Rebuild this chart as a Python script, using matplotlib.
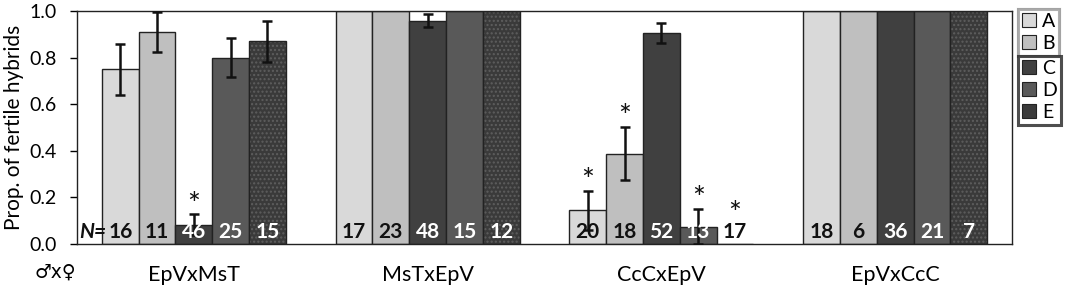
import matplotlib
matplotlib.use("Agg")
import matplotlib.pyplot as plt
from matplotlib.patches import Patch
import numpy as np

plt.rcParams['font.family'] = ['Lato', 'DejaVu Sans']

crosses = ["EpVxMsT", "MsTxEpV", "CcCxEpV", "EpVxCcC"]
series = ["A", "B", "C", "D", "E"]
# proportions per series (rows) for each cross (columns)
values = {
    "A": [0.75, 1.00, 0.147, 1.00],
    "B": [0.91, 1.00, 0.386, 1.00],
    "C": [0.083, 0.955, 0.907, 1.00],
    "D": [0.80, 1.00, 0.074, 1.00],
    "E": [0.87, 1.00, 0.0, 1.00],
}
err_low = {
    "A": [0.11, 0.0, 0.085, 0.0],
    "B": [0.088, 0.0, 0.112, 0.0],
    "C": [0.045, 0.025, 0.044, 0.0],
    "D": [0.084, 0.0, 0.074, 0.0],
    "E": [0.09, 0.0, 0.0, 0.0],
}
err_high = {
    "A": [0.11, 0.0, 0.082, 0.0],
    "B": [0.086, 0.0, 0.117, 0.0],
    "C": [0.046, 0.03, 0.04, 0.0],
    "D": [0.083, 0.0, 0.077, 0.0],
    "E": [0.086, 0.0, 0.0, 0.0],
}
n_labels = {
    "A": [16, 17, 20, 18],
    "B": [11, 23, 18, 6],
    "C": [46, 48, 52, 36],
    "D": [25, 15, 13, 21],
    "E": [15, 12, 17, 7],
}
signif = {
    "A": [0, 0, 1, 0],
    "B": [0, 0, 1, 0],
    "C": [1, 0, 0, 0],
    "D": [0, 0, 1, 0],
    "E": [0, 0, 1, 0],
}
yticks = [0.0, 0.2, 0.4, 0.6, 0.8, 1.0]

colors = {"A": "#d9d9d9", "B": "#bfbfbf", "C": "#404040", "D": "#595959", "E": "#3a3a3a"}
text_colors = {"A": "#111111", "B": "#111111", "C": "white", "D": "white", "E": "white"}

fig = plt.figure(figsize=(10.84, 2.88), dpi=100)
ax = fig.add_axes([77/1084, 44/288, (1012-77)/1084, (244-11)/288])

x = np.arange(len(crosses))
w = 0.1574
for i, s in enumerate(series):
    pos = x + (i - 2) * w
    vals = np.array(values[s])
    if s == "E":
        ax.bar(pos, vals, w, color=colors[s], edgecolor="#5e5e5e", hatch="....",
               linewidth=0, zorder=2)
        ax.bar(pos, vals, w, fill=False, edgecolor="#222222", linewidth=1.0, zorder=2.1)
    else:
        ax.bar(pos, vals, w, color=colors[s], edgecolor="#222222", linewidth=1.0, zorder=2)
    lo = np.array(err_low[s]); hi = np.array(err_high[s])
    mask = (lo + hi) > 0
    ax.errorbar(pos[mask], vals[mask], yerr=[lo[mask], hi[mask]], fmt="none",
                ecolor="#111111", elinewidth=1.8, capsize=3.5, capthick=1.8, zorder=3)
    for j in range(len(crosses)):
        tc = text_colors[s] if vals[j] > 0.05 else "#111111"
        ax.text(pos[j], 0.008, str(n_labels[s][j]), ha="center", va="bottom",
                fontsize=15, fontweight="bold", color=tc, zorder=4)
        if signif[s][j]:
            top = max(vals[j] + hi[j], 0.09)
            ax.text(pos[j], top + 0.04, "*", ha="center", va="center",
                    fontsize=22, color="#111111", zorder=4)

ax.text(-0.5 + 0.008, 0.008, "N=", ha="left", va="bottom", fontsize=15,
        fontweight="bold", fontstyle="italic", color="#111111")

ax.set_xlim(-0.5, 3.5)
ax.set_ylim(0, 1.0)
ax.set_yticks(yticks)
ax.set_yticklabels([f"{t:.1f}" for t in yticks], fontsize=14)
ax.tick_params(axis="y", direction="out", length=5, width=1, pad=9.5)
ax.set_xticks(x)
ax.set_xticklabels(crosses, fontsize=15.5)
ax.tick_params(axis="x", length=0, pad=15)
for sp in ax.spines.values():
    sp.set_linewidth(1.0)
    sp.set_color("#222222")
ax.set_ylabel("Prop. of fertile hybrids", fontsize=15, labelpad=4)

fig.text(35/1084, 1 - 272/288, "\u2642x\u2640", fontsize=13.5, ha="left", va="center",
         family=["DejaVu Sans"])

h1 = [Patch(facecolor=colors[s], edgecolor="#222222", linewidth=0.8) for s in ["A", "B"]]
h2 = [Patch(facecolor=colors[s], edgecolor="#222222", linewidth=0.8) for s in ["C", "D", "E"]]
leg1 = fig.legend(h1, ["A", "B"], loc="upper left", bbox_to_anchor=(1018/1084, 1 - 9/288),
                  fontsize=14, frameon=True, fancybox=False, handlelength=0.75,
                  handleheight=0.75, handletextpad=0.3, borderpad=0.2, labelspacing=0.25,
                  borderaxespad=0)
leg1.get_frame().set_edgecolor("#a0a0a0")
leg1.get_frame().set_linewidth(2.2)
leg2 = fig.legend(h2, ["C", "D", "E"], loc="upper left", bbox_to_anchor=(1018/1084, 1 - 56/288),
                  fontsize=14, frameon=True, fancybox=False, handlelength=0.75,
                  handleheight=0.75, handletextpad=0.3, borderpad=0.2, labelspacing=0.25,
                  borderaxespad=0)
leg2.get_frame().set_edgecolor("#222222")
leg2.get_frame().set_linewidth(2.2)
fig.add_artist(leg1)

fig.savefig("out.png", dpi=100)
